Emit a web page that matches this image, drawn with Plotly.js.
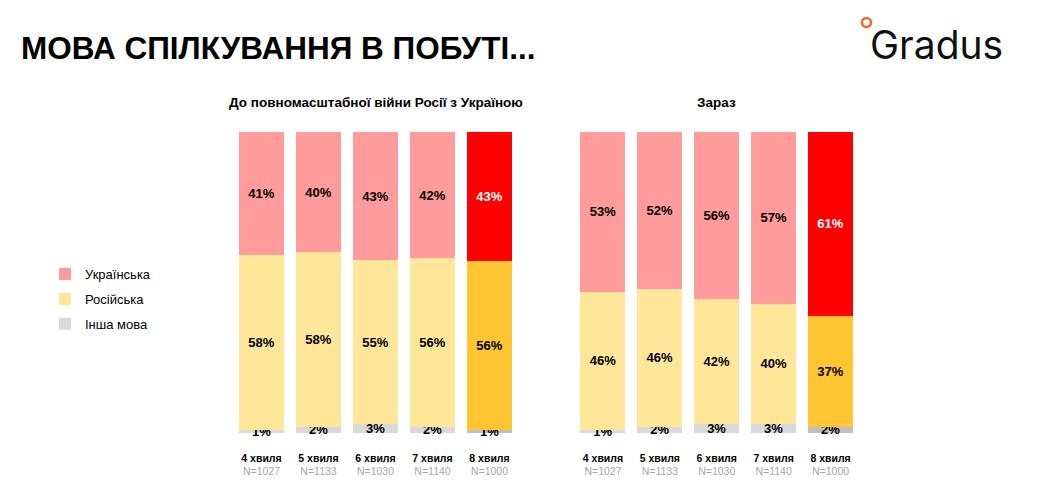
<!DOCTYPE html>
<html>
<head>
<meta charset="utf-8">
<script src="https://cdn.plot.ly/plotly-3.0.1.min.js"></script>
<style>
  html, body { margin: 0; padding: 0; background: #fff; }
  #chart { width: 1040px; height: 492px; }
</style>
</head>
<body>
<div id="chart"></div>
<script>
// Дані опитування (хвилі та розмір вибірки)
const waves = ['4 хвиля', '5 хвиля', '6 хвиля', '7 хвиля', '8 хвиля'];
const sampleSizes = [1027, 1133, 1030, 1140, 1000];

// До повномасштабної війни
const beforeUkr = [41, 40, 43, 42, 43];
const beforeRus = [58, 58, 55, 56, 56];
const beforeOther = [1, 2, 3, 2, 1];

// Зараз
const nowUkr = [53, 52, 56, 57, 61];
const nowRus = [46, 46, 42, 40, 37];
const nowOther = [1, 2, 3, 3, 2];

const seriesNames = ['Українська', 'Російська', 'Інша мова'];

// кольори: звичайна хвиля / остання хвиля
const palette = {
  ukr: ['#FF9B9B', '#FF0000'],
  rus: ['#FFE699', '#FFC532'],
  other: ['#D9D9D9', '#BFBFBF']
};
const legendRank = { ukr: 1, rus: 2, other: 3 };

const W = 1040, H = 492;
const TOP = 132, BOTTOM = 433;
const FONT = 'Liberation Sans, Arial, sans-serif';

const last = waves.length - 1;
const colorsFor = (key) => waves.map((w, i) => palette[key][i === last ? 1 : 0]);

function makeTrace(values, key, name, axis, showLegend) {
  return {
    type: 'bar',
    x: waves,
    y: values,
    name: name,
    legendgroup: key,
    legendrank: legendRank[key],
    showlegend: showLegend,
    xaxis: axis === 1 ? 'x' : 'x2',
    yaxis: axis === 1 ? 'y' : 'y2',
    marker: { color: colorsFor(key), line: { width: 0 } },
    text: values.map(v => v + '%'),
    textposition: 'inside',
    insidetextanchor: 'middle',
    constraintext: 'none',
    cliponaxis: false,
    textfont: {
      family: FONT,
      size: 13,
      weight: 700,
      color: waves.map((w, i) => (key === 'ukr' && i === last) ? '#ffffff' : '#000000')
    },
    hoverinfo: 'name+y'
  };
}

const data = [
  makeTrace(beforeOther, 'other', seriesNames[2], 1, true),
  makeTrace(beforeRus, 'rus', seriesNames[1], 1, true),
  makeTrace(beforeUkr, 'ukr', seriesNames[0], 1, true),
  makeTrace(nowOther, 'other', seriesNames[2], 2, false),
  makeTrace(nowRus, 'rus', seriesNames[1], 2, false),
  makeTrace(nowUkr, 'ukr', seriesNames[0], 2, false)
];

const tickText = waves.map((w, i) =>
  '<b>' + w + '</b><br><span style="color:#a6a6a6">N=' + sampleSizes[i] + '</span>');

const xAxisBase = {
  type: 'category',
  tickvals: waves,
  ticktext: tickText,
  showgrid: false,
  zeroline: false,
  showline: false,
  ticks: '',
  ticklabelstandoff: 17,
  tickfont: { family: FONT, size: 10.5, color: '#000' },
  fixedrange: true
};

const yAxisBase = {
  range: [0, 100],
  visible: false,
  fixedrange: true
};

const px = (x) => x / W;
const py = (y) => (BOTTOM - y) / (BOTTOM - TOP);

const left = [233, 518], right = [574.5, 859];

const layout = {
  width: W,
  height: H,
  margin: { l: 0, r: 0, t: TOP, b: H - BOTTOM, pad: 0 },
  paper_bgcolor: '#ffffff',
  plot_bgcolor: '#ffffff',
  barmode: 'stack',
  barnorm: 'percent',
  bargap: 0.21,
  font: { family: FONT, color: '#000' },
  title: {
    text: 'МОВА СПІЛКУВАННЯ В ПОБУТІ...',
    x: px(21),
    xanchor: 'left',
    xref: 'container',
    yref: 'container',
    y: 1 - 48 / H,
    yanchor: 'middle',
    font: { family: FONT, size: 31.5, weight: 700, color: '#000' }
  },
  xaxis: Object.assign({ domain: [px(left[0]), px(left[1])], anchor: 'y' }, xAxisBase),
  xaxis2: Object.assign({ domain: [px(right[0]), px(right[1])], anchor: 'y2' }, xAxisBase),
  yaxis: Object.assign({ anchor: 'x' }, yAxisBase),
  yaxis2: Object.assign({ anchor: 'x2' }, yAxisBase),
  legend: {
    x: px(45),
    xanchor: 'left',
    y: py(259),
    yanchor: 'top',
    traceorder: 'grouped',
    tracegroupgap: 5,
    font: { family: FONT, size: 13, color: '#000' },
    bgcolor: 'rgba(0,0,0,0)',
    itemclick: false,
    itemdoubleclick: false
  },
  annotations: [
    {
      text: 'До повномасштабної війни Росії з Україною',
      xref: 'paper', yref: 'paper',
      x: px((left[0] + left[1]) / 2), y: py(103),
      xanchor: 'center', yanchor: 'middle',
      showarrow: false,
      font: { family: FONT, size: 13.5, weight: 700, color: '#000' }
    },
    {
      text: 'Зараз',
      xref: 'paper', yref: 'paper',
      x: px((right[0] + right[1]) / 2), y: py(103),
      xanchor: 'center', yanchor: 'middle',
      showarrow: false,
      font: { family: FONT, size: 13.5, weight: 700, color: '#000' }
    },
    {
      text: 'Gradus',
      xref: 'paper', yref: 'paper',
      x: px(868), y: py(44),
      xanchor: 'left', yanchor: 'middle',
      showarrow: false,
      font: { family: 'Inter, Roboto, sans-serif', size: 39, weight: 400, color: '#111' }
    }
  ],
  shapes: [
    {
      type: 'circle',
      xref: 'paper', yref: 'paper',
      x0: px(862), x1: px(871),
      y0: py(27), y1: py(18),
      line: { color: '#F26522', width: 2.4 },
      fillcolor: 'rgba(0,0,0,0)'
    }
  ]
};

Plotly.newPlot('chart', data, layout, { displayModeBar: false, staticPlot: true });
</script>
</body>
</html>
